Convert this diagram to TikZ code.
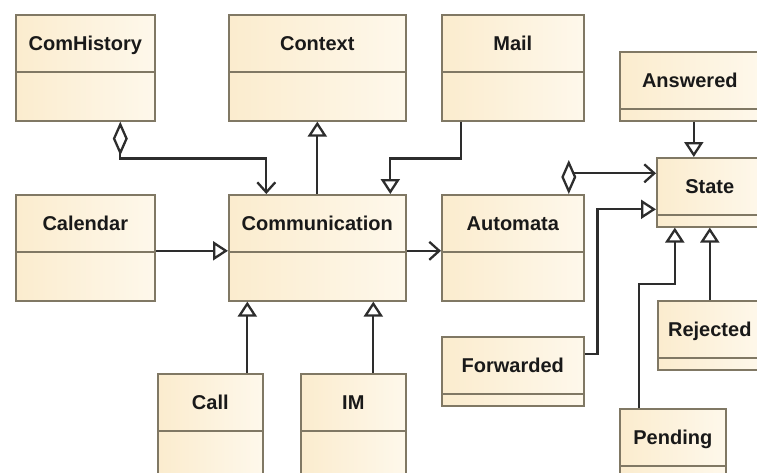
\documentclass[tikz,border=0pt]{standalone}
\usepackage{fontspec}
\setmainfont{Liberation Sans}
\usepackage{tikz}
\usetikzlibrary{arrows.meta, calc}

\definecolor{clsline}{RGB}{128,120,100}
\definecolor{clsfillA}{RGB}{251,236,206}
\definecolor{clsfillB}{RGB}{254,248,235}
\definecolor{linkgray}{RGB}{45,45,45}

\begin{document}
\begin{tikzpicture}[
    x=1pt, y=-1pt,
    cls/.style={
      draw=clsline, line width=1.6pt,
      left color=clsfillA, right color=clsfillB,
      anchor=north west, inner xsep=4pt,
      inner ysep=22pt, text height=14pt,
      font=\bfseries\fontsize{20}{22}\selectfont,
      text=black!90,
      path picture={
        \draw[clsline, line width=1.6pt]
          ([yshift=-57pt]path picture bounding box.north west) --
          ([yshift=-57pt]path picture bounding box.north east);}},
    big/.style={cls, text depth=48pt},
    small/.style={cls, text depth=11pt},
    link/.style={draw=linkgray, line width=2.3pt},
    inh/.style={link,
      -{Triangle[fill=white, length=15pt, width=19pt]}},
    assoc/.style={link,
      -{Straight Barb[length=10pt, width=18pt]}},
    aggr/.style={link,
      {Diamond[fill=white, length=34pt, width=15pt]}-{Straight Barb[length=10pt, width=18pt]}},
]

% Frame
\useasboundingbox (0,0) rectangle (757,472);
\clip (0,0) rectangle (757,472);
\fill[white] (0,0) rectangle (757,472);

% --- Top row ---
\node[big, minimum width=139pt] (comhist) at (15,14) {ComHistory};
\node[big, minimum width=177pt] (context) at (228,14) {Context};
\node[big, minimum width=142pt] (mail) at (441,14) {Mail};
\node[small, minimum width=140pt] (answered) at (619,51) {Answered};

% --- Middle row ---
\node[small, minimum width=106pt] (state) at (656,157) {State};
\node[big, minimum width=139pt] (calendar) at (15,194) {Calendar};
\node[big, minimum width=177pt] (comm) at (228,194) {Communication};
\node[big, minimum width=142pt] (automata) at (441,194) {Automata};

% --- Bottom row ---
\node[small, minimum width=104pt] (rejected) at (657,300) {Rejected};
\node[small, minimum width=142pt] (forwarded) at (441,336) {Forwarded};
\node[big, minimum width=105pt] (call) at (157,373) {Call};
\node[big, minimum width=105pt] (im) at (300,373) {IM};
\node[small, minimum width=106pt] (pending) at (619,408) {Pending};

% Aggregations
\draw[aggr] ([xshift=35pt]comhist.south) -- ++(0,37)
  -| ([xshift=-51pt]comm.north);
\draw[aggr] ([xshift=56pt]automata.north)
  |- ([yshift=19pt]state.west);

% Association
\draw[assoc] ([yshift=-3pt]comm.east) -- ([yshift=-3pt]automata.west);

% Generalisations into Communication
\draw[inh] (comm.north) -- (context.south);
\draw[inh] ([xshift=-52pt]mail.south) -- ++(0,37)
  -| ([xshift=73pt]comm.north);
\draw[inh] ([yshift=-3pt]calendar.east) -- ([yshift=-3pt]comm.west);
\draw[inh] ([xshift=37pt]call.north) -- ([xshift=37pt]call.north |- comm.south);
\draw[inh] ([xshift=20pt]im.north) -- ([xshift=20pt]im.north |- comm.south);

% Generalisations into State
\draw[inh] ([xshift=4pt]answered.south)
  -- ([xshift=4pt]answered.south |- state.north);
\draw[inh] ([yshift=17pt]forwarded.east) -- ++(13,0)
  |- ([yshift=-17pt]state.west);
\draw[inh] ([xshift=-34pt]pending.north) -- ++(0,-124)
  -| ([xshift=-35pt]state.south);
\draw[inh] (rejected.north) -- (rejected.north |- state.south);

\end{tikzpicture}
\end{document}
